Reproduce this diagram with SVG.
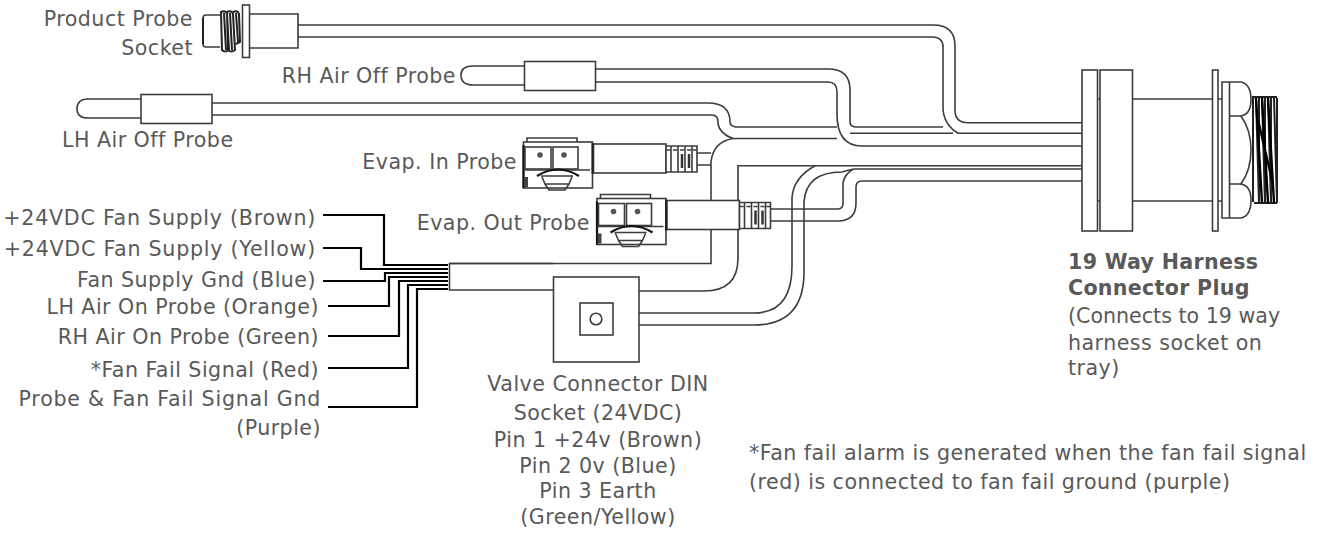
<svg xmlns="http://www.w3.org/2000/svg" width="1319" height="538" viewBox="0 0 1319 538">
<style>
text{font-family:"DejaVu Sans",Verdana,sans-serif;font-size:20.6px;letter-spacing:.47px;fill:#595959}
.r{text-anchor:end}.m{text-anchor:middle}.b{font-weight:bold;letter-spacing:.3px}
.w{letter-spacing:.75px}.n{letter-spacing:0}
.l,.l *{fill:none;stroke:#3c3c3c;stroke-width:1.6}
.s,.s *{fill:#fff;stroke:#3c3c3c;stroke-width:1.6}
.k{fill:none;stroke:#000;stroke-width:2.200}
.t{fill:none;stroke:#222;stroke-width:2}
</style>
<defs>
<g id="probe">
<path class="s" d="M527 147V138H577V147"/>
<rect class="s" x="523.500" y="142" width="69" height="46"/>
<path d="M523.500 145V188" fill="none" stroke="#111" stroke-width="2.200"/>
<rect class="s" x="525" y="147" width="26" height="22"/>
<rect class="s" x="553" y="147" width="25" height="22"/>
<circle cx="540" cy="155" r="2.800" fill="#555"/><circle cx="564" cy="155" r="2.800" fill="#555"/>
<path class="l" d="M524 170H590"/>
<path d="M537 176Q558 163 579 176" fill="none" stroke="#111" stroke-width="2.200"/>
<path class="l" d="M541 176H573M542 177L545 184H569L572 177M545 184L549 190H565L569 184"/>
<rect x="524" y="177" width="4" height="10" fill="#444"/>
<rect class="s" x="593.500" y="144" width="72.500" height="29"/>
<path d="M592.500 143V174" fill="none" stroke="#222" stroke-width="2"/>
<path class="s" d="M666 146H697V172H666Z"/>
<path class="l" d="M671 146V172M678 146V172M685 146V172M692 146V172M666 150H670M673 150H677M680 150H684M687 150H691M693 150H697"/>
<path d="M682 154V168M689 154V168" fill="none" stroke="#333" stroke-width="2.500"/>
</g>
</defs>
<g id="connectors">
<g class="l">
<path d="M298 25H933Q955 25 955 46V110Q955 122.700 968 122.700H1082"/>
<path d="M298 37H932Q943 37 943 47V107Q943 124 958 133.300H1082"/>
<path d="M596 69H828Q850 69 850 90V122Q850 127 857 127H943"/>
<path d="M596 82H828Q837 82 837 92V114Q837 146 862 146H1082"/>
<path d="M850 133.300H953"/>
<path d="M212 103H708Q730 103 730 122Q730 127 738 127H837"/>
<path d="M212 115H712Q718 115 718 122V124Q720 134 733 138.500"/>
<path d="M733 138.500H837"/>
<path d="M697 153H711M697 165H711"/>
<path d="M449 263.500H711V162Q713 142 733 138.500"/>
<path d="M639 291H704Q738 291 738 258V165.700H1082"/>
<path d="M639 313H754Q792 313 792 266V198Q793 178 815 165.700"/>
<path d="M639 325H754Q804 325 804 272V202Q806 172 842 172Q848 170 855 169H1082"/>
<path d="M771 209H838Q843 209 843 203V183Q844 175 853 169"/>
<path d="M771 221H838Q856 221 856 203V187Q856 181 862 181H1082"/>
</g>
<path class="k" d="M323 215H384V265H448"/>
<path class="k" d="M323 248H361V269H448"/>
<path class="k" d="M323 281H385V273H448"/>
<path class="k" d="M328 306H389V277H448"/>
<path class="k" d="M328 336H399V281H448"/>
<path class="k" d="M328 368H408V285H448"/>
<path class="k" d="M328 407H417V289H448"/>
</g>
<g id="product-probe">
<path class="l" d="M220 15H206Q203 15 203 18V44Q203 47 206 47H220"/>
<path d="M203 18V44" fill="none" stroke="#222" stroke-width="2"/>
<path class="t" d="M221 12Q226 10 227 14L229 50Q225 53 222 50ZM227 12Q232 10 233 14L235 50Q231 53 228 50ZM233 12Q238 10 239 14L240 42L236 44"/>
<path class="t" d="M224 13L226 50M230 13L232 50M236 13L238 42"/>
<rect class="s" x="242.500" y="5" width="7" height="52.500"/>
<path class="l" d="M250 14H298V48H250"/>
</g>
<g id="rh-air-off-probe">
<path class="l" d="M525 66H473Q461 66 461 75Q461 85 473 85H525"/>
<rect class="s" x="524.500" y="61.500" width="71" height="29"/>
</g>
<g id="lh-air-off-probe">
<path class="l" d="M141 99H88Q77 99 77 109Q77 118 88 118H141"/>
<rect class="s" x="141" y="94.500" width="71" height="29"/>
</g>
<g id="evap-in-probe"><use href="#probe"/></g>
<g id="evap-out-probe"><use href="#probe" x="73.500" y="56.500"/></g>
<g id="valve-connector">
<path class="l" d="M553 263.500H449.500V290H553"/>
<rect class="s" x="553.500" y="277" width="85.500" height="85"/>
<rect class="l" x="580" y="303" width="33" height="32"/>
<circle class="l" cx="596" cy="319" r="5.800"/>
</g>
<g id="harness-plug">
<path class="l" d="M1097 99H1100M1097 201H1100M1132 99H1212M1132 201H1212M1218 99H1222M1218 201H1222"/>
<rect class="s" x="1082" y="70" width="15.500" height="161"/>
<rect class="s" x="1100" y="70" width="32.500" height="161"/>
<rect class="s" x="1212.500" y="70" width="5.500" height="161"/>
<g class="t">
<path d="M1253 98V202M1256 98L1259 203M1259 98V203M1262 98L1265 203M1265 98V203M1268 98L1271 203M1271 98V203M1274 98L1277 203M1277 98V203"/>
<path d="M1252 97H1277M1254 203H1277"/>
</g>
<path d="M1256 98L1262 203M1262 98L1268 203M1268 98L1274 203M1258 120L1272 180" fill="none" stroke="#000" stroke-width="2.400"/>
<path class="s" d="M1222 82H1241Q1251 84 1251 100Q1251 114 1241 116Q1251 130 1251 150Q1251 170 1241 184Q1251 186 1251 200Q1251 216 1241 218H1222Z"/>
<path class="l" d="M1229.500 82V218M1229.500 116H1241M1229.500 184H1241"/>
</g>
<g id="labels" transform="translate(0 .8)">
<text class="r" x="193" y="25">Product Probe</text>
<text class="r" x="193" y="54">Socket</text>
<text class="r" x="456" y="82">RH Air Off Probe</text>
<text x="62" y="146">LH Air Off Probe</text>
<text class="r" x="517" y="168">Evap. In Probe</text>
<text class="r" x="590" y="229">Evap. Out Probe</text>
<text class="r w" x="316" y="224">+24VDC Fan Supply (Brown)</text>
<text class="r w" x="316" y="255">+24VDC Fan Supply (Yellow)</text>
<text class="r" x="316" y="286">Fan Supply Gnd (Blue)</text>
<text class="r" x="319" y="313">LH Air On Probe (Orange)</text>
<text class="r" x="319" y="343">RH Air On Probe (Green)</text>
<text class="r" x="319" y="376">*Fan Fail Signal (Red)</text>
<text class="r w" x="321" y="405">Probe &amp; Fan Fail Signal Gnd</text>
<text class="r" x="321" y="434">(Purple)</text>
<text class="m" x="598" y="390">Valve Connector DIN</text>
<text class="m" x="598" y="419">Socket (24VDC)</text>
<text class="m" x="598" y="446">Pin 1 +24v (Brown)</text>
<text class="m" x="598" y="472">Pin 2 0v (Blue)</text>
<text class="m" x="598" y="497">Pin 3 Earth</text>
<text class="m" x="598" y="523">(Green/Yellow)</text>
<text class="b" x="1068" y="268">19 Way Harness</text>
<text class="b" x="1068" y="294">Connector Plug</text>
<text class="n" x="1068" y="322">(Connects to 19 way</text>
<text x="1068" y="349">harness socket on</text>
<text x="1068" y="374">tray)</text>
<text x="749" y="459">*Fan fail alarm is generated when the fan fail signal</text>
<text x="749" y="488">(red) is connected to fan fail ground (purple)</text>
</g>
</svg>
